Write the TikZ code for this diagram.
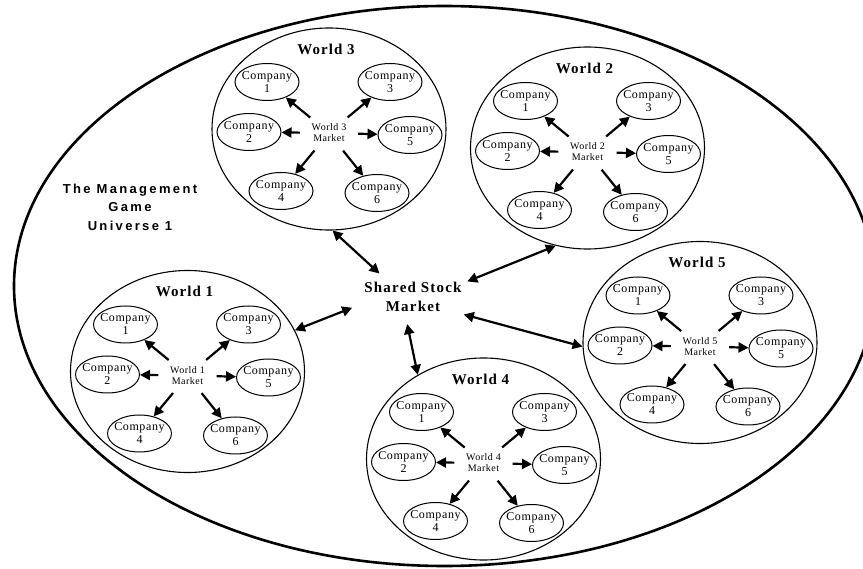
\documentclass[tikz,border=0pt]{standalone}
\usepackage{fontspec}
\setmainfont{Liberation Serif}
\newfontfamily\titlefont[LetterSpace=7]{Liberation Serif}
\newfontfamily\sharedfont[LetterSpace=8]{Liberation Serif}
\newfontfamily\compfont[LetterSpace=5]{Liberation Serif}
\newfontfamily\mktfont[LetterSpace=5]{Liberation Serif}
\newfontfamily\univfont[LetterSpace=18]{Liberation Sans}
\usetikzlibrary{arrows.meta,shapes.geometric}

\tikzset{
  universe/.style={line width=2.6pt},
  worldbox/.style={ellipse, draw, line width=1.1pt, minimum width=234pt, minimum height=202pt, inner sep=0pt},
  worldtitle/.style={inner sep=0pt, font={\titlefont\bfseries\fontsize{15}{17}\selectfont}},
  company/.style={ellipse, draw, line width=1pt, minimum width=64pt, minimum height=37pt,
    inner xsep=-4pt, inner ysep=0pt, align=center, font={\compfont\fontsize{12}{13}\selectfont}},
  market/.style={ellipse, minimum width=58pt, minimum height=40pt, inner sep=0pt, align=center,
    font={\mktfont\fontsize{10}{11}\selectfont}},
  shared/.style={ellipse, minimum width=132pt, minimum height=54pt, inner xsep=-6pt, inner ysep=0pt,
    align=center, font={\sharedfont\bfseries\fontsize{15}{19}\selectfont}},
  univlabel/.style={align=center, inner sep=0pt, font={\univfont\bfseries\fontsize{13}{18.5}\selectfont}},
  inarrow/.style={-{Triangle[length=10pt,width=10pt]}, line width=2.2pt},
  dblarrow/.style={{Triangle[length=10pt,width=10pt]}-{Triangle[length=10pt,width=10pt]}, line width=2.2pt},
}

\newcommand{\worldgroup}[4]{%
  \node[worldbox] (#1) at (#2,#3) {};
  \node[worldtitle] (#1t) at ({#2-3},{#3-80}) {World #4};
  \node[market] (#1m) at ({#2},{#3+4}) {World #4\\Market};
  \node[company] (#1c1) at ({#2-62},{#3-47}) {Company\\1};
  \node[company] (#1c3) at ({#2+61},{#3-47}) {Company\\3};
  \node[company] (#1c2) at ({#2-80},{#3+3}) {Company\\2};
  \node[company] (#1c5) at ({#2+81},{#3+6}) {Company\\5};
  \node[company] (#1c4) at ({#2-48},{#3+62}) {Company\\4};
  \node[company] (#1c6) at ({#2+48},{#3+64}) {Company\\6};
  \foreach \k in {1,2,3,4,5,6} {\draw[inarrow] (#1m) -- (#1c\k);}
}

\begin{document}
\begin{tikzpicture}[x=1pt,y=-1pt]
\useasboundingbox (0,0) rectangle (863,569);
\draw[universe] (444.5,286) ellipse [x radius=430.5pt, y radius=280pt];

\node[univlabel] (univ) at (130,207) {The Management\\Game\\Universe 1};
\node[shared] (ssm) at (413,297) {Shared Stock\\Market};

\worldgroup{wa}{187.5}{371.5}{1}
\worldgroup{wb}{587.5}{148}{2}
\worldgroup{wc}{329}{129}{3}
\worldgroup{wd}{483.5}{459}{4}
\worldgroup{we}{700}{342.5}{5}

\draw[dblarrow] (ssm.145) -- (wc.272);
\draw[dblarrow] (ssm.16) -- (wb.252);
\draw[dblarrow] (ssm.190) -- (wa.21);
\draw[dblarrow] (ssm.258) -- (wd.128);
\draw[dblarrow] (ssm.341) -- (we.182);
\end{tikzpicture}
\end{document}
